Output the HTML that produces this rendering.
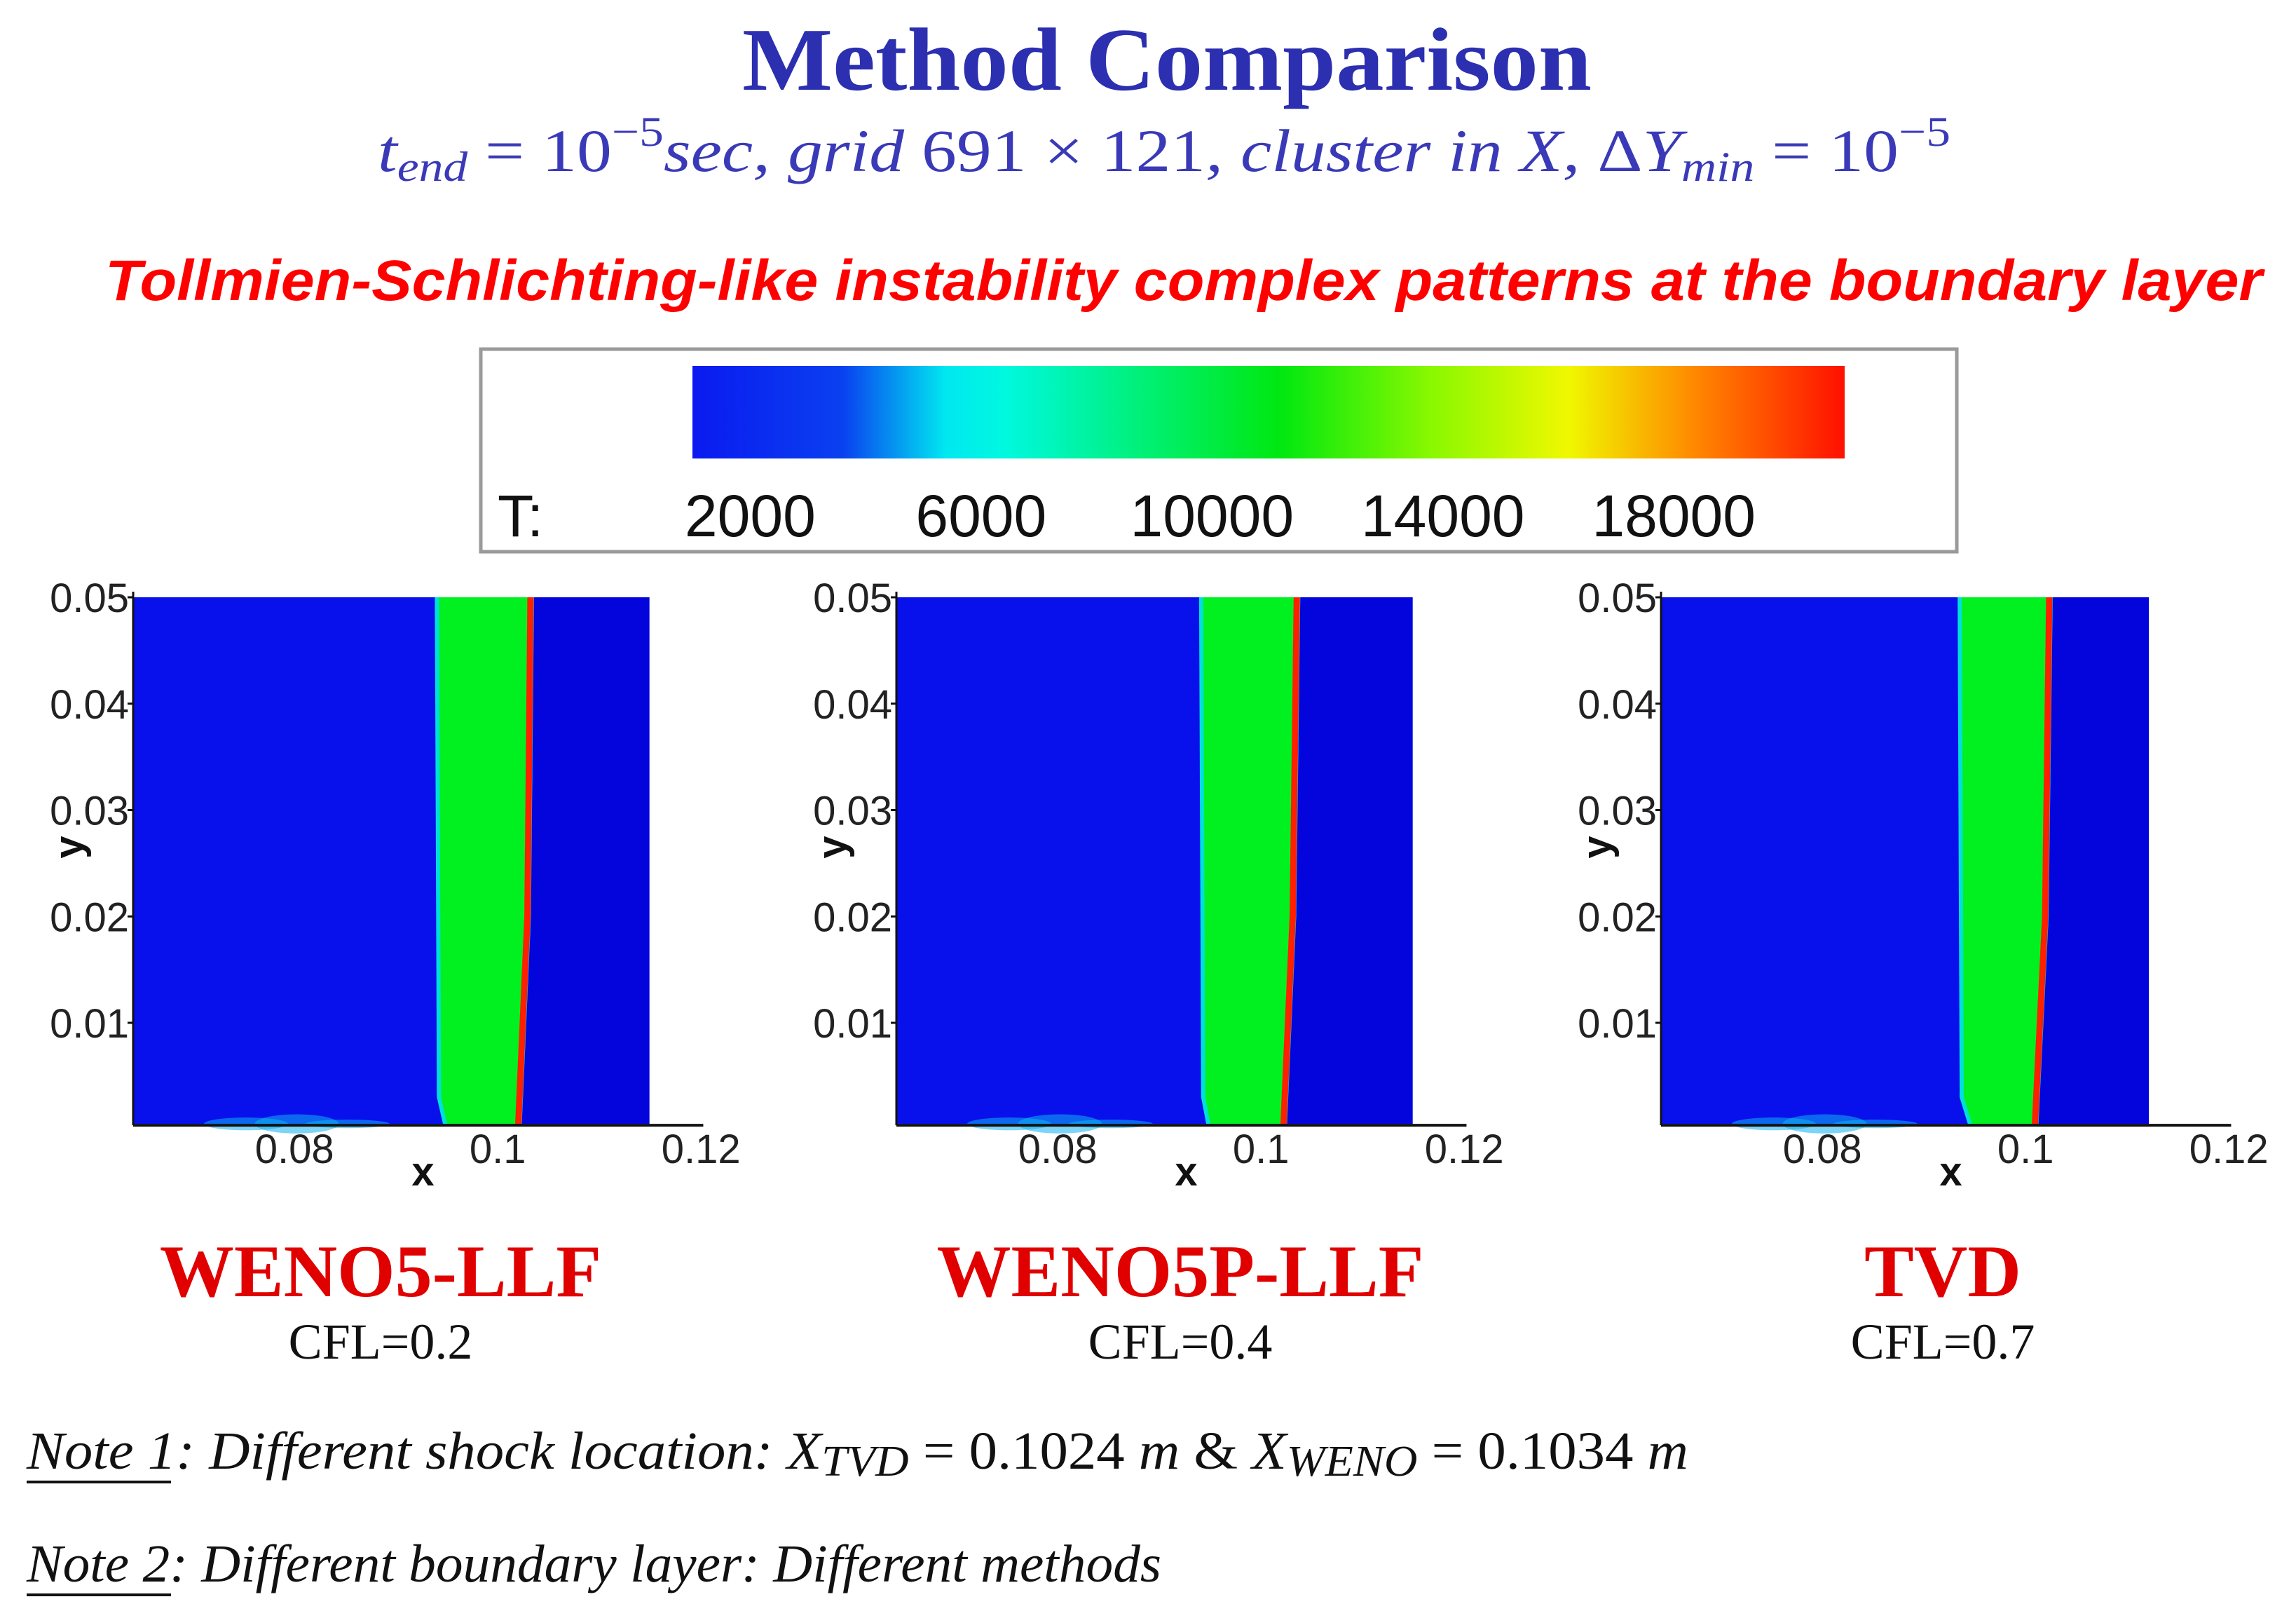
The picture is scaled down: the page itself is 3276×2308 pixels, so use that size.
<!DOCTYPE html>
<html><head><meta charset="utf-8"><style>
html,body{margin:0;padding:0;background:#fff;width:3276px;height:2308px;overflow:hidden}
svg{display:block}
</style></head><body>
<svg id="root" width="3276" height="2308" viewBox="0 0 3276 2308" xmlns="http://www.w3.org/2000/svg">
<defs>
<linearGradient id="cmap" x1="0" x2="1" y1="0" y2="0">
<stop offset="0" stop-color="#0a1af0"/><stop offset="0.13" stop-color="#0a40f0"/>
<stop offset="0.22" stop-color="#00e8f0"/><stop offset="0.27" stop-color="#00f8e0"/>
<stop offset="0.51" stop-color="#00e810"/><stop offset="0.64" stop-color="#88f800"/>
<stop offset="0.76" stop-color="#f0f800"/><stop offset="0.87" stop-color="#ff8800"/>
<stop offset="1" stop-color="#ff1000"/>
</linearGradient>
</defs>
<text x="1665" y="128" text-anchor="middle" font-family="Liberation Serif, serif" font-weight="bold" font-size="128" fill="#2b2fb0" textLength="1212" lengthAdjust="spacingAndGlyphs">Method Comparison</text>
<text x="539" y="244" font-family="Liberation Serif, serif" font-size="86" fill="#3a3ab8" textLength="2244" lengthAdjust="spacingAndGlyphs"><tspan font-style="italic">t</tspan><tspan font-style="italic" font-size="60" dy="14">end</tspan><tspan dy="-14"> = 10</tspan><tspan font-size="60" dy="-36">−5</tspan><tspan dy="36" font-style="italic">sec, grid </tspan><tspan>691 × 121</tspan><tspan font-style="italic">, cluster in X, </tspan><tspan>Δ</tspan><tspan font-style="italic">Y</tspan><tspan font-style="italic" font-size="60" dy="14">min</tspan><tspan dy="-14"> = 10</tspan><tspan font-size="60" dy="-36">−5</tspan></text>
<text x="150" y="428" font-family="Liberation Sans, sans-serif" font-weight="bold" font-style="italic" font-size="82" fill="#ff0000" textLength="3078" lengthAdjust="spacingAndGlyphs">Tollmien-Schlichting-like instability complex patterns at the boundary layer</text>
<g id="legend">
<rect x="686" y="498" width="2106" height="289" fill="#fff" stroke="#9a9a9a" stroke-width="5"/>
<rect x="988" y="522" width="1644" height="132" fill="url(#cmap)"/>
<text x="710" y="765" font-family="Liberation Sans, sans-serif" font-size="84" fill="#111">T:</text>
</g>
<g id="plots"></g>
<text x="38" y="2095" font-family="Liberation Serif, serif" font-style="italic" font-size="76" fill="#111" textLength="2371" lengthAdjust="spacingAndGlyphs">Note 1: Different shock location: X<tspan font-size="62" dy="10">TVD</tspan><tspan dy="-10" font-style="normal"> = 0.1024 </tspan>m<tspan font-style="normal"> &amp; </tspan>X<tspan font-size="62" dy="10">WENO</tspan><tspan dy="-10" font-style="normal"> = 0.1034 </tspan>m</text>
<line x1="38" y1="2114" x2="244" y2="2114" stroke="#111" stroke-width="4"/>
<text x="38" y="2256" font-family="Liberation Serif, serif" font-style="italic" font-size="76" fill="#111" textLength="1619" lengthAdjust="spacingAndGlyphs">Note 2: Different boundary layer: Different methods</text>
<line x1="38" y1="2275" x2="244" y2="2275" stroke="#111" stroke-width="4"/>
</svg>
<script>
const cbTicks = [2000, 6000, 10000, 14000, 18000];
const cbMin = 1000, cbMax = 20960;
const methods = ["WENO5-LLF", "WENO5P-LLF", "TVD"];
const cfls = ["CFL=0.2", "CFL=0.4", "CFL=0.7"];
const xMaxes = [0.1152, 0.1152, 0.1124];
const greenTop = [0.0945, 0.0946, 0.0940];
const greenKnee = [0.0947, 0.0948, 0.0942];
const greenBottom = [0.0953, 0.0953, 0.0950];
const shockTop = [0.1035, 0.1038, 0.1026];
const shockMid = [0.1032, 0.1034, 0.1022];
const shockBottom = [0.1023, 0.1025, 0.1012];
const xTicks = [0.08, 0.1, 0.12];
const xTickLabels = ["0.08", "0.1", "0.12"];
const yTicks = [0.01, 0.02, 0.03, 0.04, 0.05];
const yTickLabels = ["0.01", "0.02", "0.03", "0.04", "0.05"];
const bumpX = [0.0755, 0.0805, 0.0855];
const bumpH = [0.0006, 0.0009, 0.0004];

const NS = "http://www.w3.org/2000/svg";
function mk(tag, attrs, parent) {
  const e = document.createElementNS(NS, tag);
  for (const k in attrs) e.setAttribute(k, attrs[k]);
  parent.appendChild(e);
  return e;
}
const root = document.getElementById('root');
const legend = document.getElementById('legend');
const cbX = v => 988 + (v - cbMin) / (cbMax - cbMin) * 1644;
cbTicks.forEach(t => {
  const tx = mk('text', {x: cbX(t), y: 765, 'text-anchor': 'middle', 'font-family': 'Liberation Sans, sans-serif', 'font-size': 84, fill: '#111'}, legend);
  tx.textContent = String(t);
  
  
});

const plots = document.getElementById('plots');
const lefts = [190, 1279, 2370];
const centers = [543, 1684, 2772];
const xmin = 0.0644, pxPerX = 14500;
const ymin = 0.0005, ymaxV = 0.05, yTop = 852, pxPerY = 15175;
methods.forEach((m, i) => {
  const g = mk('g', {}, plots);
  
  
  const X = v => lefts[i] + (v - xmin) * pxPerX;
  const Y = v => yTop + (ymaxV - v) * pxPerY;
  const L = X(xmin), R = X(xMaxes[i]), T = Y(ymaxV), B = Y(ymin), M = Y(0.02), K = Y(0.003);
  const bg = mk('rect', {x: L, y: T, width: R - L, height: B - T, fill: '#0810ec'}, g);
  
  
  const shockPath = `${X(shockTop[i])},${T} ${X(shockMid[i])},${M} ${X(shockBottom[i])},${B}`;
  const post = mk('polygon', {points: `${shockPath} ${R},${B} ${R},${T}`, fill: '#0404dc'}, g);
  
  
  const cy = mk('polygon', {points: `${X(greenTop[i]) - 6},${T} ${X(greenKnee[i]) - 6},${K} ${X(greenBottom[i]) - 6},${B} ${X(shockBottom[i]) + 5},${B} ${X(shockMid[i]) + 5},${M} ${X(shockTop[i]) + 5},${T}`, fill: '#00e0d8'}, g);
  
  
  const gr = mk('polygon', {points: `${X(greenTop[i])},${T} ${X(greenKnee[i])},${K} ${X(greenBottom[i])},${B} ${X(shockBottom[i])},${B} ${X(shockMid[i])},${M} ${X(shockTop[i])},${T}`, fill: '#00f020'}, g);
  
  
  bumpX.forEach((bx, k) => {
    const b = mk('ellipse', {cx: X(bx), cy: B, rx: 60, ry: bumpH[k] * pxPerY, fill: '#10b0f0', opacity: 0.55}, g);
    
    
  });
  const sh = mk('polyline', {points: shockPath, fill: 'none', stroke: '#ff2000', 'stroke-width': 9}, g);
  
  
  const xa = mk('line', {x1: L, y1: B + 2, x2: X(0.1205), y2: B + 2, stroke: '#111', 'stroke-width': 4}, g);
  
  
  const ya = mk('line', {x1: L, y1: T - 8, x2: L, y2: B + 2, stroke: '#111', 'stroke-width': 3}, g);
  
  
  xTicks.forEach((t, k) => {
    const tl = mk('text', {x: X(t) + 4, y: B + 56, 'text-anchor': 'middle', 'font-family': 'Liberation Sans, sans-serif', 'font-size': 58, fill: '#222'}, g);
    tl.textContent = xTickLabels[k];
    
    
  });
  yTicks.forEach((t, k) => {
    const tl = mk('text', {x: L - 6, y: Y(t) + 21, 'text-anchor': 'end', 'font-family': 'Liberation Sans, sans-serif', 'font-size': 58, fill: '#222'}, g);
    tl.textContent = yTickLabels[k];
    
    
    const tk = mk('line', {x1: L - 8, y1: Y(t), x2: L, y2: Y(t), stroke: '#111', 'stroke-width': 3}, g);
    
    
  });
  const xl = mk('text', {x: X(0.0805) + 180, y: B + 88, 'text-anchor': 'middle', 'font-family': 'Liberation Sans, sans-serif', 'font-weight': 'bold', 'font-size': 58, fill: '#111'}, g);
  xl.textContent = 'x';
  
  
  const yl = mk('text', {x: 0, y: 0, 'text-anchor': 'middle', 'font-family': 'Liberation Sans, sans-serif', 'font-weight': 'bold', 'font-size': 58, fill: '#111', transform: `translate(${L - 72},${Y(0.0265)}) rotate(-90)`}, g);
  yl.textContent = 'y';
  
  
  const ml = mk('text', {x: centers[i], y: 1849, 'text-anchor': 'middle', 'font-family': 'Liberation Serif, serif', 'font-weight': 'bold', 'font-size': 106, fill: '#e00000'}, root);
  ml.textContent = m;
  
  
  const cl = mk('text', {x: centers[i], y: 1938, 'text-anchor': 'middle', 'font-family': 'Liberation Serif, serif', 'font-size': 72, fill: '#111'}, root);
  cl.textContent = cfls[i];
  
  
});
</script>
</body></html>
